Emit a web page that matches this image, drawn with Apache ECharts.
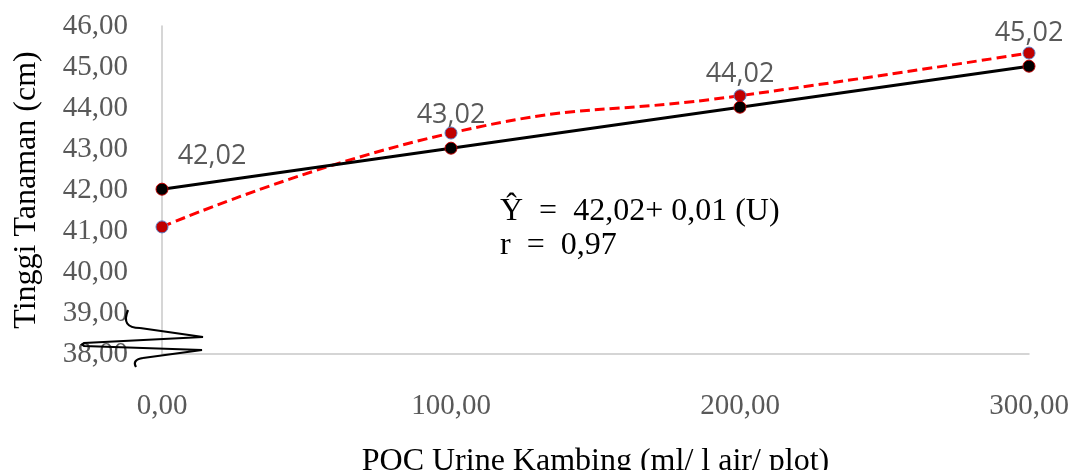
<!DOCTYPE html>
<html>
<head>
<meta charset="utf-8">
<script src="https://cdn.jsdelivr.net/npm/echarts@6/dist/echarts.min.js"></script>
<style>html,body{margin:0;padding:0;background:#fff;}#c{width:1075px;height:470px;}</style>
</head>
<body>
<div id="c"></div>
<script>
// Data
var doses = [0, 100, 200, 300];
var regression = [42.02, 43.02, 44.02, 45.02];
var observed = [41.10, 43.39, 44.30, 45.34];
var pointLabels = ['42,02', '43,02', '44,02', '45,02'];
var yTicks = { min: 38, max: 46, step: 1 };
var xTicks = { min: 0, max: 300, step: 100 };
var xTitle = 'POC Urine Kambing (ml/ l air/ plot)';
var yTitle = 'Tinggi Tanaman (cm)';
var eqLine1 = '\u0176  =  42,02+ 0,01 (U)';
var eqLine2 = 'r  =  0,97';

function fmt(v) { return v.toFixed(2).replace('.', ','); }

var serif = '"Liberation Serif", "DejaVu Serif", serif';
var chart = echarts.init(document.getElementById('c'));

var regData = doses.map(function (d, i) {
  var item = { value: [d, regression[i]], label: { formatter: pointLabels[i] } };
  if (i === 0) item.label.offset = [50, 0];
  return item;
});
var obsData = doses.map(function (d, i) { return [d, observed[i]]; });

var breakStyle = { fill: 'none', stroke: '#000', lineWidth: 2.2 };

chart.setOption({
  animation: false,
  backgroundColor: '#ffffff',
  grid: { left: 162, right: 46, top: 26, bottom: 116, containLabel: false, outerBoundsMode: 'none' },
  xAxis: {
    type: 'value', min: xTicks.min, max: xTicks.max, interval: xTicks.step,
    axisLine: { show: true, lineStyle: { color: '#c8c8c8', width: 1.5 } },
    axisTick: { show: false },
    splitLine: { show: false },
    axisLabel: { formatter: fmt, color: '#595959', fontFamily: serif, fontSize: 29, margin: 38 },
    name: xTitle, nameLocation: 'middle', nameGap: 92,
    nameTextStyle: { color: '#000', fontFamily: serif, fontSize: 32 }
  },
  yAxis: {
    type: 'value', min: yTicks.min, max: yTicks.max, interval: yTicks.step,
    axisLine: { show: true, lineStyle: { color: '#c8c8c8', width: 1.5 } },
    axisTick: { show: false },
    splitLine: { show: false },
    axisLabel: { formatter: fmt, color: '#595959', fontFamily: serif, fontSize: 29, margin: 34 },
    name: yTitle, nameLocation: 'middle', nameGap: 119, nameRotate: 90,
    nameTextStyle: { color: '#000', fontFamily: serif, fontSize: 32 }
  },
  series: [
    {
      type: 'line', data: obsData, smooth: 0.5, z: 2,
      symbol: 'circle', symbolSize: 12,
      lineStyle: { color: '#ff0000', width: 3, type: [10, 5] },
      itemStyle: { color: '#c00000', borderColor: '#5b7bc0', borderWidth: 1 }
    },
    {
      type: 'line', data: regData, z: 3,
      symbol: 'circle', symbolSize: 12,
      lineStyle: { color: '#000000', width: 3 },
      itemStyle: { color: '#000000', borderColor: '#c00000', borderWidth: 1 },
      label: {
        show: true, position: 'top', distance: 13,
        color: '#595959', fontFamily: '"Open Sans", "Liberation Sans", sans-serif', fontSize: 27
      }
    }
  ],
  graphic: [
    {
      type: 'text', left: 500, top: 196,
      style: { text: eqLine1, font: '32px ' + serif, fill: '#000' }
    },
    {
      type: 'text', left: 500, top: 230,
      style: { text: eqLine2, font: '32px ' + serif, fill: '#000' }
    },
    {
      type: 'bezierCurve', z: 10,
      shape: { x1: 128, y1: 310, cpx1: 123, cpy1: 322, cpx2: 127, cpy2: 328, x2: 140, y2: 328 },
      style: breakStyle
    },
    {
      type: 'polyline', z: 10,
      shape: { points: [[140, 328], [203, 337], [84, 343], [82, 344.5], [84, 346], [202, 350], [143, 358]] },
      style: breakStyle
    },
    {
      type: 'bezierCurve', z: 10,
      shape: { x1: 143, y1: 358, cpx1: 136, cpy1: 359, cpx2: 133, cpy2: 362, x2: 136, y2: 367 },
      style: breakStyle
    }
  ]
});
</script>
</body>
</html>
